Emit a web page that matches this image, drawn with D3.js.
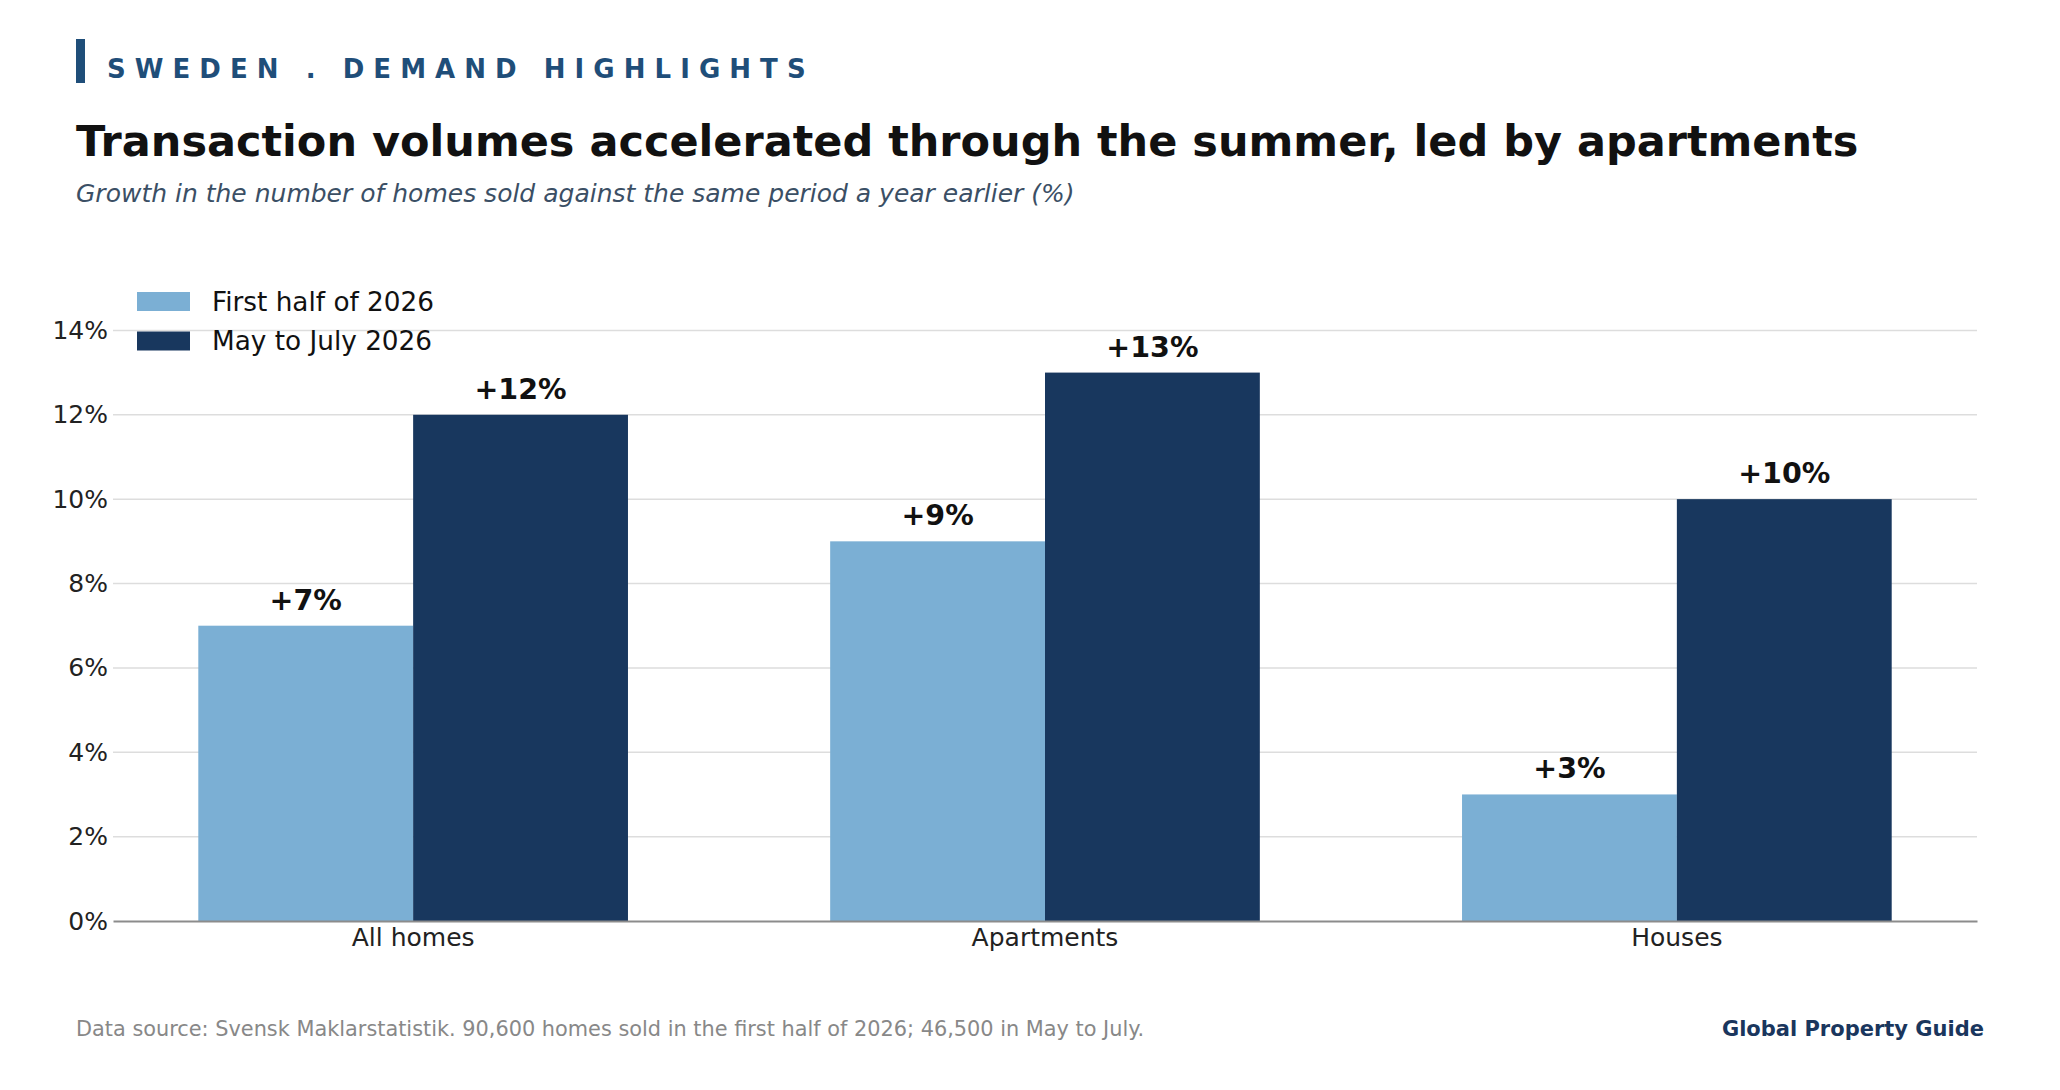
<!DOCTYPE html>
<html>
<head>
<meta charset="utf-8">
<script src="https://cdn.jsdelivr.net/npm/d3@7"></script>
<style>
  html, body { margin: 0; padding: 0; background: #fff; }
  svg text { font-family: "DejaVu Sans", sans-serif; }
</style>
</head>
<body>
<svg id="chart" width="2060" height="1090"></svg>
<script>
// data
const categories = ["All homes", "Apartments", "Houses"];
const seriesNames = ["First half of 2026", "May to July 2026"];
const firstHalf = [7, 9, 3];
const mayToJuly = [12, 13, 10];
const yTicks = [0, 2, 4, 6, 8, 10, 12, 14];

const colors = ["#7BAFD4", "#18375E"];

const svg = d3.select("#chart");
const width = 2060, height = 1090;
svg.append("rect").attr("width", width).attr("height", height).attr("fill", "#fff");

const plot = { left: 113, right: 1977, top: 330.4, bottom: 921 };

// header
svg.append("rect")
  .attr("x", 76).attr("y", 39)
  .attr("width", 9).attr("height", 44)
  .attr("fill", "#1F4E79");

svg.append("text")
  .attr("x", 107).attr("y", 77.5)
  .attr("font-size", 26).attr("font-weight", "bold")
  .attr("fill", "#1F4E79")
  .style("white-space", "pre")
  .text("S W E D E N   .   D E M A N D   H I G H L I G H T S");

svg.append("text")
  .attr("x", 76).attr("y", 156)
  .attr("font-size", 43).attr("font-weight", "bold")
  .attr("fill", "#111")
  .text("Transaction volumes accelerated through the summer, led by apartments");

svg.append("text")
  .attr("x", 76).attr("y", 201.5)
  .attr("font-size", 25).attr("font-style", "italic")
  .attr("fill", "#3B4F65")
  .text("Growth in the number of homes sold against the same period a year earlier (%)");

// scales
const x0 = d3.scaleBand()
  .domain(categories)
  .range([plot.left, plot.right])
  .paddingInner(0.32)
  .paddingOuter(0.135);

const x1 = d3.scaleBand()
  .domain(seriesNames)
  .range([0, x0.bandwidth()]);

const y = d3.scaleLinear()
  .domain([0, 14])
  .range([plot.bottom, plot.top]);

// grid
svg.append("g")
  .selectAll("line")
  .data(yTicks.filter(d => d > 0))
  .join("line")
  .attr("x1", plot.left).attr("x2", plot.right)
  .attr("y1", d => y(d)).attr("y2", d => y(d))
  .attr("stroke", "#DDDDDD")
  .attr("stroke-width", 1.5);

// y axis labels
const yAxis = svg.append("g")
  .attr("transform", `translate(${plot.left},0)`)
  .call(d3.axisLeft(y).tickValues(yTicks).tickFormat(d => d + "%").tickSize(0).tickPadding(5));
yAxis.select(".domain").remove();
yAxis.selectAll("text")
  .attr("font-size", 25)
  .attr("font-family", "DejaVu Sans")
  .attr("fill", "#222");

// bars
const rows = categories.map((c, i) => ({
  category: c,
  values: [
    { series: seriesNames[0], value: firstHalf[i] },
    { series: seriesNames[1], value: mayToJuly[i] }
  ]
}));

const groups = svg.append("g")
  .selectAll("g")
  .data(rows)
  .join("g")
  .attr("transform", d => `translate(${x0(d.category)},0)`);

groups.selectAll("rect")
  .data(d => d.values)
  .join("rect")
  .attr("x", d => x1(d.series))
  .attr("y", d => y(d.value))
  .attr("width", x1.bandwidth())
  .attr("height", d => y(0) - y(d.value))
  .attr("fill", (d, i) => colors[i]);

groups.selectAll("text")
  .data(d => d.values)
  .join("text")
  .attr("x", d => x1(d.series) + x1.bandwidth() / 2)
  .attr("y", d => y(d.value) - 16)
  .attr("text-anchor", "middle")
  .attr("font-size", 28.5)
  .attr("font-weight", "bold")
  .attr("fill", "#111")
  .text(d => "+" + d.value + "%");

// x axis
const xAxis = svg.append("g")
  .attr("transform", `translate(0,${plot.bottom})`)
  .call(d3.axisBottom(x0).tickSize(0).tickPadding(7));
xAxis.select(".domain")
  .attr("stroke", "#8C8C8C")
  .attr("stroke-width", 2);
xAxis.selectAll("text")
  .attr("font-size", 25)
  .attr("font-family", "DejaVu Sans")
  .attr("fill", "#222");

// legend
const legend = svg.append("g")
  .selectAll("g")
  .data(seriesNames)
  .join("g")
  .attr("transform", (d, i) => `translate(137,${292 + i * 39.5})`);
legend.append("rect")
  .attr("width", 53).attr("height", 19)
  .attr("fill", (d, i) => colors[i]);
legend.append("text")
  .attr("x", 75).attr("y", 9.5)
  .attr("dy", "0.35em")
  .attr("font-size", 26.3)
  .attr("fill", "#111")
  .text(d => d);

// footer
svg.append("text")
  .attr("x", 76).attr("y", 1036)
  .attr("font-size", 20.85)
  .attr("fill", "#888")
  .text("Data source: Svensk Maklarstatistik. 90,600 homes sold in the first half of 2026; 46,500 in May to July.");

svg.append("text")
  .attr("x", 1984).attr("y", 1036)
  .attr("text-anchor", "end")
  .attr("font-size", 21)
  .attr("font-weight", "bold")
  .attr("fill", "#1A365D")
  .text("Global Property Guide");
</script>
</body>
</html>
